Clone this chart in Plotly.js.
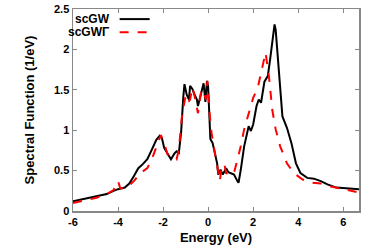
<!DOCTYPE html>
<html><head><meta charset="utf-8">
<script src="https://cdn.plot.ly/plotly-3.0.1.min.js"></script>
<style>html,body{margin:0;padding:0;background:#fff}#c{width:382px;height:247px}</style>
</head><body><div id="c"></div>
<script>
const gwX = [-6,-5,-4.5,-4.2,-4,-3.7,-3.5,-3.3,-3.1,-2.9,-2.7,-2.5,-2.3,-2.15,-2.05,-1.95,-1.8,-1.65,-1.5,-1.4,-1.3,-1.2,-1.1,-1.05,-0.95,-0.85,-0.8,-0.7,-0.6,-0.5,-0.45,-0.3,-0.2,-0.12,-0.05,0,0.05,0.1,0.2,0.3,0.4,0.45,0.55,0.65,0.8,0.9,1.0,1.15,1.3,1.35,1.45,1.6,1.8,1.9,2.0,2.15,2.25,2.35,2.5,2.65,2.75,2.85,2.95,3.0,3.1,3.2,3.3,3.5,3.7,3.9,4.1,4.4,4.7,5.0,5.3,5.7,6.2,6.7];
const gwY = [0.12,0.18,0.21,0.25,0.27,0.29,0.34,0.43,0.53,0.58,0.64,0.76,0.88,0.93,0.90,0.78,0.71,0.64,0.71,0.74,0.72,0.97,1.42,1.57,1.44,1.38,1.55,1.51,1.44,1.38,1.30,1.48,1.58,1.35,1.61,1.54,1.21,0.89,0.84,0.72,0.59,0.45,0.51,0.45,0.53,0.48,0.47,0.45,0.37,0.35,0.51,0.80,1.05,0.99,1.07,1.30,1.38,1.34,1.60,1.67,1.87,2.08,2.31,2.24,1.87,1.42,1.17,1.03,0.84,0.59,0.47,0.41,0.40,0.37,0.33,0.29,0.28,0.27];
const gwgX = [-6,-5,-4.5,-4.2,-4.0,-3.9,-3.6,-3.3,-3.0,-2.7,-2.5,-2.3,-2.1,-1.95,-1.8,-1.6,-1.4,-1.3,-1.15,-1.0,-0.9,-0.8,-0.7,-0.6,-0.45,-0.3,-0.2,-0.1,-0.03,0.05,0.15,0.3,0.45,0.52,0.6,0.72,0.8,1.0,1.15,1.3,1.45,1.6,1.8,2.0,2.2,2.4,2.55,2.7,2.85,3.0,3.2,3.5,3.8,4.2,4.6,5.0,5.5,6.0,6.7];
const gwgY = [0.10,0.16,0.21,0.26,0.37,0.28,0.29,0.37,0.47,0.53,0.64,0.80,0.94,0.84,0.70,0.68,0.64,0.76,1.21,1.42,1.34,1.38,1.53,1.42,1.21,1.50,1.48,1.38,1.61,1.25,0.97,0.72,0.47,0.37,0.55,0.58,0.47,0.44,0.47,0.64,0.80,1.01,1.21,1.40,1.52,1.79,1.96,1.67,1.25,1.01,0.80,0.59,0.47,0.39,0.35,0.34,0.30,0.27,0.23];
const xTicks = [-6,-4,-2,0,2,4,6];
const yTicks = [0,0.5,1,1.5,2,2.5];
const yTickText = ['0','0.5','1','1.5','2','2.5'];
const names = ['scGW','scGWΓ'];

const font = {family:'"Liberation Sans", Arial, sans-serif', size:11, color:'#000', weight:'bold'};
const titleFont = Object.assign({}, font, {size:13});
const axisCommon = {showgrid:false, zeroline:false, showline:true, linecolor:'#888', linewidth:1.5, mirror:'ticks', ticks:'inside', ticklen:4, tickcolor:'#888', tickwidth:1, tickfont:font};
const data = [
  {x:gwX, y:gwY, type:'scatter', mode:'lines', line:{color:'#000', width:2}, name:names[0], showlegend:false},
  {x:gwgX, y:gwgY, type:'scatter', mode:'lines', line:{color:'#ff0000', width:2, dash:'dash'}, name:names[1], showlegend:false}
];
const layout = {
  width:382, height:247, margin:{l:73, r:23, t:9, b:36},
  paper_bgcolor:'#fff', plot_bgcolor:'#fff', font:font,
  xaxis:Object.assign({}, axisCommon, {range:[-6,6.7], tickvals:xTicks, ticktext:xTicks.map(String), title:{text:'Energy (eV)', font:titleFont, standoff:6}}),
  yaxis:Object.assign({}, axisCommon, {range:[0,2.5], tickvals:yTicks, ticktext:yTickText, title:{text:'Spectral Function (1/eV)', font:titleFont, standoff:16}}),
  annotations:[
    {xref:'paper', yref:'paper', x:0.138, y:0.95, xanchor:'right', yanchor:'middle', text:names[0], showarrow:false, font:Object.assign({}, font, {size:12})},
    {xref:'paper', yref:'paper', x:0.138, y:0.885, xanchor:'right', yanchor:'middle', text:names[1], showarrow:false, font:Object.assign({}, font, {size:12})}
  ],
  shapes:[
    {type:'line', xref:'paper', yref:'paper', x0:0.163, x1:0.268, y0:0.95, y1:0.95, line:{color:'#000', width:2}},
    {type:'line', xref:'paper', yref:'paper', x0:0.163, x1:0.268, y0:0.885, y1:0.885, line:{color:'#ff0000', width:2, dash:'dash'}}
  ]
};
Plotly.newPlot('c', data, layout, {staticPlot:true, displayModeBar:false});
</script></body></html>
